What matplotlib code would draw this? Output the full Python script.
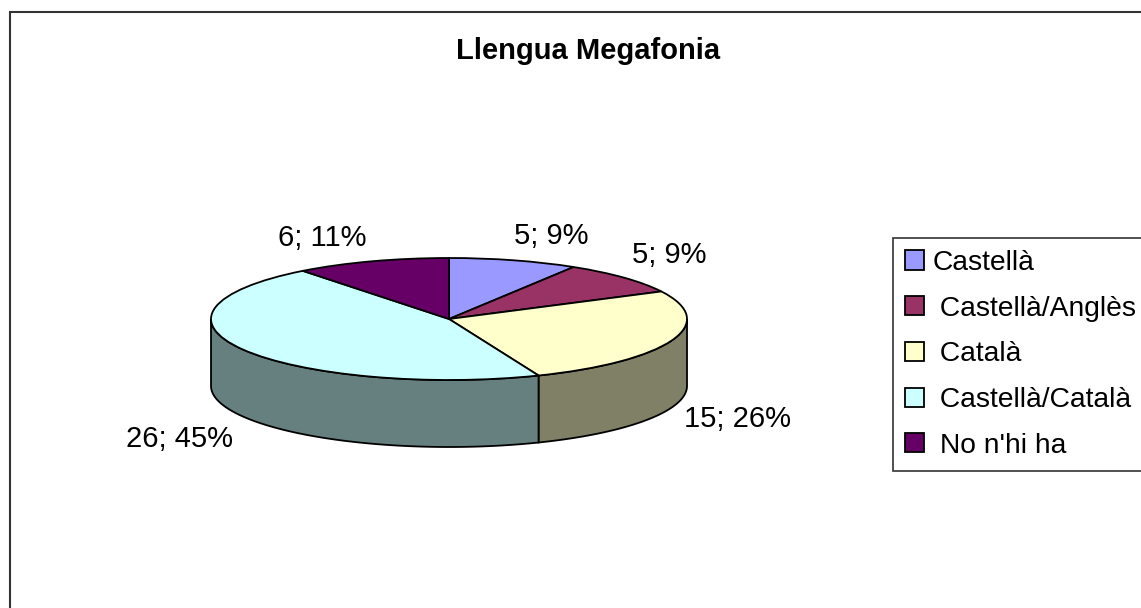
import numpy as np
import matplotlib
matplotlib.use("Agg")
import matplotlib.pyplot as plt
from matplotlib.colors import to_rgb
from matplotlib.patches import Rectangle

# data
categories = ["Castellà", " Castellà/Anglès", " Català", " Castellà/Català", " No n'hi ha"]
values = [5, 5, 15, 26, 6]
percents = [9, 9, 26, 45, 11]
colors = ["#9999FF", "#993366", "#FFFFCC", "#CCFFFF", "#660066"]
title = "Llengua Megafonia"

# layout (pixels)
W, H = 1141, 608
CX, CY = 449, 319      # centre of top face
RX, RY = 238, 61       # ellipse radii
DEPTH = 67             # height of the side wall
label_px = [(551, 236), (669, 255), (737, 419), (180, 439), (322, 238)]

plt.rcParams['font.family'] = ['Liberation Sans', 'DejaVu Sans']

fig = plt.figure(figsize=(W / 100, H / 100), dpi=100)
ax = fig.add_axes([0, 0, 1, 1])

def to_data(px, py):
    return (px - CX) / RX, (CY - py) / RY

# top face as an elliptical pie
wedges, _ = ax.pie(values, colors=colors, startangle=90, counterclock=False,
                   radius=1, center=(0, 0), frame=False,
                   wedgeprops=dict(edgecolor='black', linewidth=1.3, zorder=3))

# side walls (only the front half is visible)
d = DEPTH / RY
fracs = np.cumsum([0] + values) / sum(values)
for i, col in enumerate(colors):
    a_start = 90 - fracs[i + 1] * 360
    a_end = 90 - fracs[i] * 360
    lo, hi = max(a_start, -180), min(a_end, 0)
    if lo >= hi:
        # also check the wrapped range
        lo, hi = max(a_start + 360, -180), min(a_end + 360, 0)
        if lo >= hi:
            continue
    t = np.radians(np.linspace(lo, hi, 100))
    xs = np.concatenate([np.cos(t), np.cos(t[::-1])])
    ys = np.concatenate([np.sin(t), np.sin(t[::-1]) - d])
    side = tuple(c * 0.5 for c in to_rgb(col))
    ax.fill(xs, ys, facecolor=side, edgecolor='black', linewidth=1.3, zorder=1)

ax.set_aspect('auto')
ax.set_xlim(-CX / RX, (W - CX) / RX)
ax.set_ylim((CY - H) / RY, CY / RY)
ax.axis('off')

# data labels
for (px, py), v, p in zip(label_px, values, percents):
    x, y = to_data(px, py)
    ax.text(x, y, f"{v}; {p}%", ha='center', va='center', fontsize=21)

# title
fig.text(588 / W, 1 - 51 / H, title, ha='center', va='center',
         fontsize=21, fontweight='bold')

# legend
leg = fig.legend(wedges, categories, loc='upper left',
                 bbox_to_anchor=(893 / W, 1 - 238 / H), borderaxespad=0,
                 fontsize=20.3, handlelength=0.67, handleheight=0.67,
                 handletextpad=0.3, labelspacing=0.7, borderpad=0.42,
                 fancybox=False, framealpha=1)
leg.get_frame().set_edgecolor('#333333')
leg.get_frame().set_linewidth(1.2)

# outer chart border (runs off the right and bottom)
fig.add_artist(Rectangle((10 / W, -0.1), 2, 1 - 12 / H + 0.1,
                         transform=fig.transFigure, fill=False,
                         edgecolor='#333333', linewidth=1.5))

fig.savefig("out.png", dpi=100)
